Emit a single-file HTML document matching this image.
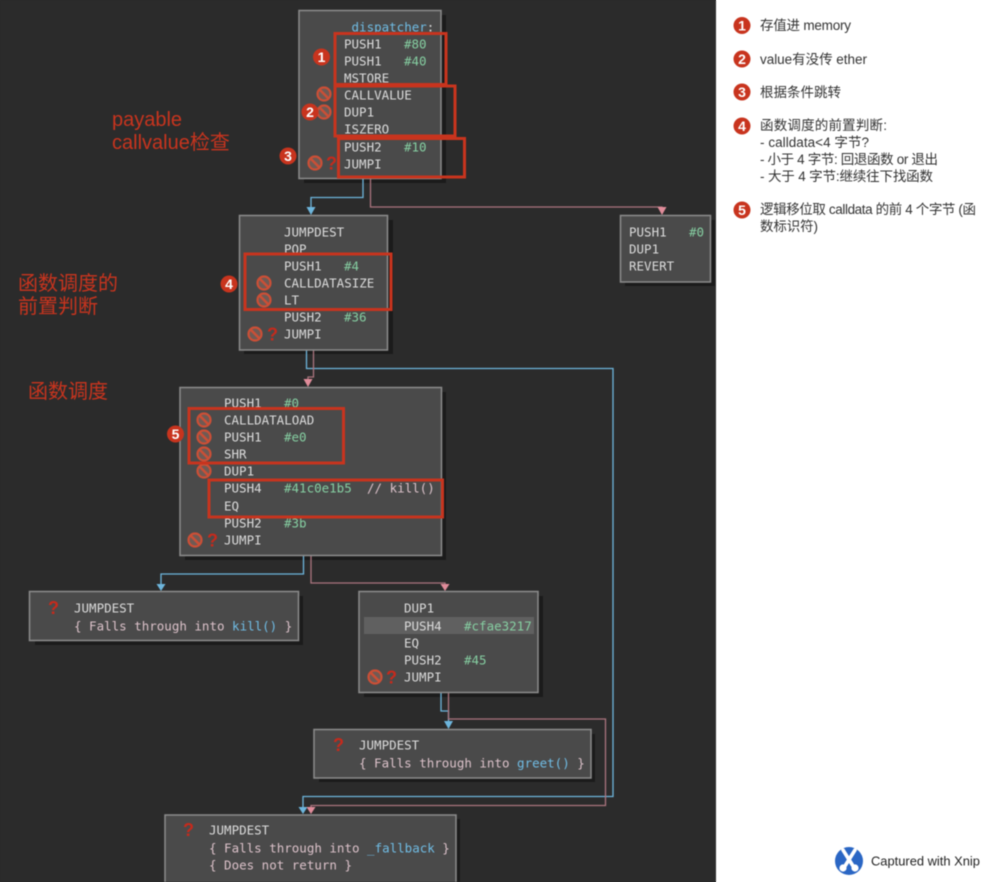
<!DOCTYPE html>
<html><head><meta charset="utf-8">
<style>
html,body{margin:0;padding:0;background:linear-gradient(90deg,#2b2b2b 716px,#fff 716px);overflow:hidden}
svg{display:block;filter:blur(.4px)}
.m{font-family:"DejaVu Sans Mono","Liberation Mono",monospace;font-size:12.5px;fill:#dcdcdc;transform:translateY(.5px)}
.g{fill:#86cfa2}.b{fill:#70bce4}.p{fill:#dcc2ca}
.r{font-family:"Liberation Sans","Noto Sans CJK SC",sans-serif;font-size:20px;fill:#c8341e}
.n{font-family:"Liberation Sans","Noto Sans CJK SC",sans-serif;font-size:13.5px;fill:#333}
.c{font-family:"Liberation Sans",sans-serif;font-size:14px;font-weight:bold;fill:#fff;text-anchor:middle}
.q{font-family:"Liberation Sans",sans-serif;font-size:18px;font-weight:bold;fill:#c62a1c;text-anchor:middle}
.box{fill:#4a4a4a;stroke:#8c8c8c;stroke-width:1.5}
.sh{fill:#1b1b1b}
.eb{fill:none;stroke:#6db5dc;stroke-width:1.3}
.ep{fill:none;stroke:#ab747e;stroke-width:1.3}
.rb{fill:none;stroke:#c8341e;stroke-width:3}
</style></head><body>
<svg width="987" height="882" viewBox="0 0 987 882" xmlns="http://www.w3.org/2000/svg">
<defs>
<g id="no"><circle r="6.5" fill="#6f5a54" stroke="#cc4f36" stroke-width="2.2"/><line x1="-4.6" y1="-4.6" x2="4.6" y2="4.6" stroke="#cc4f36" stroke-width="2.4"/></g>
</defs>
<rect width="716" height="882" fill="#2b2b2b"/>
<rect x="716" y="0" width="271" height="882" fill="#fff"/>

<!-- shadows -->
<rect class="sh" x="304" y="15" width="142" height="168"/>
<rect class="sh" x="244" y="220" width="149" height="134"/>
<rect class="sh" x="185" y="392" width="261" height="168"/>
<rect class="sh" x="625" y="220" width="90" height="66"/>
<rect class="sh" x="35" y="596" width="268" height="49"/>
<rect class="sh" x="364" y="596" width="179" height="101"/>
<rect class="sh" x="319" y="734" width="276" height="48"/>
<rect class="sh" x="170" y="819" width="290" height="63"/>

<!-- edges -->
<path class="eb" d="M363 179V197.500H311V208"/>
<path class="ep" d="M370.500 179V207H662V208"/>
<path class="eb" d="M306.500 350V368.500H613V796.500H303V808"/>
<path class="ep" d="M313.500 350V377H308V380"/>
<path class="eb" d="M303.500 556V574H161V585"/>
<path class="ep" d="M311 556V583H445V585"/>
<path class="eb" d="M441 693V711H448.500V722"/>
<path class="ep" d="M448.500 693V719H605.500V805.500H311V808"/>
<polygon points="306.500,207 315.500,207 311,215" fill="#6db5dc"/>
<polygon points="657.500,207 666.500,207 662,215" fill="#e08c9a"/>
<polygon points="303.500,379 312.500,379 308,387" fill="#e08c9a"/>
<polygon points="156.500,584 165.500,584 161,591" fill="#6db5dc"/>
<polygon points="440.500,584 449.500,584 445,591" fill="#e08c9a"/>
<polygon points="444,721 453,721 448.500,729" fill="#6db5dc"/>
<polygon points="298.500,807 307.500,807 303,814" fill="#6db5dc"/>
<polygon points="306.500,807 315.500,807 311,814" fill="#e08c9a"/>

<!-- blocks -->
<rect class="box" x="299" y="10.500" width="142" height="168"/>
<rect class="box" x="239.500" y="215.500" width="148" height="134.500"/>
<rect class="box" x="180" y="387.500" width="261.500" height="168"/>
<rect class="box" x="620.500" y="215.500" width="90" height="66.500"/>
<rect class="box" x="29.500" y="591.500" width="269" height="49"/>
<rect class="box" x="359" y="591.500" width="179" height="101"/>
<rect class="box" x="314" y="729.500" width="277" height="48.500"/>
<rect class="box" x="165" y="815" width="291" height="70"/>
<rect x="364" y="617" width="170" height="17" fill="#606060"/>

<!-- block A -->
<text class="m" x="344" y="31"><tspan class="b">_dispatcher</tspan>:</text>
<text class="m" x="344" y="48">PUSH1</text><text class="m g" x="404" y="48">#80</text>
<text class="m" x="344" y="65">PUSH1</text><text class="m g" x="404" y="65">#40</text>
<text class="m" x="344" y="82">MSTORE</text>
<text class="m" x="344" y="99">CALLVALUE</text>
<text class="m" x="344" y="116">DUP1</text>
<text class="m" x="344" y="133">ISZERO</text>
<text class="m" x="344" y="151">PUSH2</text><text class="m g" x="404" y="151">#10</text>
<text class="m" x="344" y="168">JUMPI</text>

<!-- block B -->
<text class="m" x="284" y="236">JUMPDEST</text>
<text class="m" x="284" y="253">POP</text>
<text class="m" x="284" y="270">PUSH1</text><text class="m g" x="344" y="270">#4</text>
<text class="m" x="284" y="287">CALLDATASIZE</text>
<text class="m" x="284" y="304">LT</text>
<text class="m" x="284" y="321">PUSH2</text><text class="m g" x="344" y="321">#36</text>
<text class="m" x="284" y="338">JUMPI</text>

<!-- block C -->
<text class="m" x="224" y="407">PUSH1</text><text class="m g" x="284" y="407">#0</text>
<text class="m" x="224" y="424">CALLDATALOAD</text>
<text class="m" x="224" y="441">PUSH1</text><text class="m g" x="284" y="441">#e0</text>
<text class="m" x="224" y="458">SHR</text>
<text class="m" x="224" y="475">DUP1</text>
<text class="m" x="224" y="492">PUSH4</text><text class="m g" x="284" y="492">#41c0e1b5</text><text class="m p" x="367" y="492">// kill()</text>
<text class="m" x="224" y="510">EQ</text>
<text class="m" x="224" y="527">PUSH2</text><text class="m g" x="284" y="527">#3b</text>
<text class="m" x="224" y="544">JUMPI</text>

<!-- block D -->
<text class="m" x="629" y="236">PUSH1</text><text class="m g" x="689" y="236">#0</text>
<text class="m" x="629" y="253">DUP1</text>
<text class="m" x="629" y="270">REVERT</text>

<!-- block E -->
<text class="m" x="74" y="612">JUMPDEST</text>
<text class="m p" x="74" y="630">{ Falls through into <tspan class="b">kill()</tspan> }</text>

<!-- block F -->
<text class="m" x="404" y="612">DUP1</text>
<text class="m" x="404" y="630">PUSH4</text><text class="m g" x="464" y="630">#cfae3217</text>
<text class="m" x="404" y="647">EQ</text>
<text class="m" x="404" y="664">PUSH2</text><text class="m g" x="464" y="664">#45</text>
<text class="m" x="404" y="681">JUMPI</text>

<!-- block G -->
<text class="m" x="359" y="749">JUMPDEST</text>
<text class="m p" x="359" y="767">{ Falls through into <tspan class="b">greet()</tspan> }</text>

<!-- block H -->
<text class="m" x="209" y="834">JUMPDEST</text>
<text class="m p" x="209" y="852">{ Falls through into <tspan class="b">_fallback</tspan> }</text>
<text class="m p" x="209" y="869">{ Does not return }</text>

<!-- no-signs -->
<use href="#no" x="324" y="94"/><use href="#no" x="324" y="112"/><use href="#no" x="315" y="163"/>
<use href="#no" x="264" y="283"/><use href="#no" x="264" y="300"/><use href="#no" x="255" y="334"/>
<use href="#no" x="204" y="420"/><use href="#no" x="204" y="437"/><use href="#no" x="204" y="454"/><use href="#no" x="204" y="471"/><use href="#no" x="195" y="540"/>
<use href="#no" x="375" y="677"/>

<!-- question marks -->
<text class="q" x="331.500" y="169.500">?</text>
<text class="q" x="272.500" y="340.500">?</text>
<text class="q" x="212.500" y="546.500">?</text>
<text class="q" x="391.500" y="683.500">?</text>
<text class="q" x="53.500" y="614">?</text>
<text class="q" x="338.500" y="751">?</text>
<text class="q" x="188.500" y="836">?</text>

<!-- red rects -->
<rect class="rb" x="335" y="33.500" width="111" height="51"/>
<rect class="rb" x="335" y="86" width="120" height="50"/>
<rect class="rb" x="338.500" y="138.500" width="126" height="38.500"/>
<rect class="rb" x="245" y="254" width="146" height="55.500"/>
<rect class="rb" x="189" y="408.500" width="154.500" height="54.500"/>
<rect class="rb" x="209" y="480" width="233.500" height="37"/>

<!-- badges on diagram -->
<circle cx="321.500" cy="57" r="8.500" fill="#c8341e"/><text class="c" x="321.500" y="62">1</text>
<circle cx="310" cy="112" r="8.500" fill="#c8341e"/><text class="c" x="310" y="117">2</text>
<circle cx="288" cy="156" r="8.500" fill="#c8341e"/><text class="c" x="288" y="161">3</text>
<circle cx="229" cy="284" r="8.500" fill="#c8341e"/><text class="c" x="229" y="289">4</text>
<circle cx="175.500" cy="434" r="8.500" fill="#c8341e"/><text class="c" x="175.500" y="439">5</text>

<!-- red notes -->
<text class="r" x="112" y="126">payable</text>
<text class="r" x="112" y="149">callvalue检查</text>
<text class="r" x="18" y="290">函数调度的</text>
<text class="r" x="18" y="313">前置判断</text>
<text class="r" x="28" y="398">函数调度</text>

<!-- right panel -->
<circle cx="742" cy="25.500" r="8.500" fill="#c8341e"/><text class="c" x="742" y="30.500">1</text>
<circle cx="742" cy="59" r="8.500" fill="#c8341e"/><text class="c" x="742" y="64">2</text>
<circle cx="742" cy="92" r="8.500" fill="#c8341e"/><text class="c" x="742" y="97">3</text>
<circle cx="742" cy="126" r="8.500" fill="#c8341e"/><text class="c" x="742" y="131">4</text>
<circle cx="742" cy="210" r="8.500" fill="#c8341e"/><text class="c" x="742" y="215">5</text>
<text class="n" x="760" y="30" textLength="91">存值进 memory</text>
<text class="n" x="760" y="64" textLength="107">value有没传 ether</text>
<text class="n" x="760" y="97" textLength="81">根据条件跳转</text>
<text class="n" x="760" y="130" textLength="127">函数调度的前置判断:</text>
<text class="n" x="760" y="147" textLength="109">- calldata&lt;4 字节?</text>
<text class="n" x="760" y="164" textLength="178">- 小于 4 字节: 回退函数 or 退出</text>
<text class="n" x="760" y="181" textLength="173">- 大于 4 字节:继续往下找函数</text>
<text class="n" x="760" y="214" textLength="216">逻辑移位取 calldata 的前 4 个字节 (函</text>
<text class="n" x="760" y="231" textLength="58">数标识符)</text>

<!-- Xnip -->
<circle cx="849" cy="861" r="14" fill="#2a66c4"/>
<path d="M855 850L845 866M843 850L853 866" fill="none" stroke="#fff" stroke-width="3.600" stroke-linecap="round"/>
<circle cx="843" cy="868" r="3.600" fill="#fff"/><circle cx="855" cy="868" r="3.600" fill="#fff"/>
<text x="871" y="865.500" style="font-family:'Liberation Sans',sans-serif;font-size:12.900px;fill:#222">Captured with Xnip</text>
</svg>
</body></html>
